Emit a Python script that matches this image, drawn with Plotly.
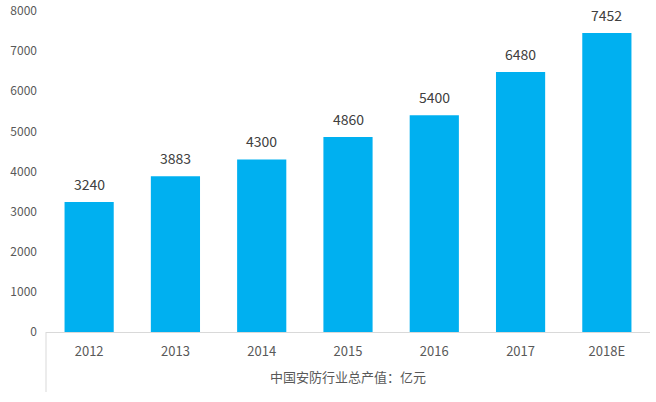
import plotly.graph_objects as go

categories = ["2012", "2013", "2014", "2015", "2016", "2017", "2018E"]
values = [3240, 3883, 4300, 4860, 5400, 6480, 7452]
x_title = "中国安防行业总产值：亿元"
y_ticks = [0, 1000, 2000, 3000, 4000, 5000, 6000, 7000, 8000]

FONT = "Noto Sans CJK SC, Noto Sans, sans-serif"
TXT = "#595959"

idx = list(range(len(categories)))

fig = go.Figure()
fig.add_trace(go.Bar(
    x=idx, y=values,
    marker=dict(color="#00B0F0", line=dict(width=0)),
    width=0.57,
    customdata=categories,
    hovertemplate="%{customdata}: %{y}<extra></extra>",
))
for i, v in zip(idx, values):
    fig.add_annotation(x=i, y=v, xref="x", yref="y", text=str(v), showarrow=False,
                       yanchor="bottom", yshift=6,
                       font=dict(family=FONT, size=14, color="#404040"))

fig.update_layout(
    width=656, height=402,
    margin=dict(l=46, r=6, t=11, b=70),
    paper_bgcolor="white", plot_bgcolor="white",
    showlegend=False,
    font=dict(family=FONT, color=TXT),
    xaxis=dict(
        type="linear", range=[-0.5, len(categories) - 0.5],
        tickmode="array", tickvals=idx, ticktext=categories,
        showline=True, linecolor="#D9D9D9", linewidth=1,
        ticks="", tickfont=dict(size=13, color=TXT),
        ticklabelstandoff=7,
        title=dict(text=x_title, font=dict(size=13, color=TXT), standoff=14),
        showgrid=False, zeroline=False, automargin=False,
    ),
    yaxis=dict(
        range=[0, 8000], tickmode="array", tickvals=y_ticks,
        showgrid=False, zeroline=False, automargin=False,
        showline=False, ticks="", tickfont=dict(size=12, color=TXT),
        ticklabelstandoff=8,
    ),
)
fig.add_shape(type="line", xref="paper", yref="paper",
              x0=0, x1=0, y0=0, y1=-60/321,
              line=dict(color="#D9D9D9", width=1))
fig.write_html("out.html", config={"displayModeBar": False},
               post_script="document.body.style.margin='0';document.body.style.overflow='hidden';")
